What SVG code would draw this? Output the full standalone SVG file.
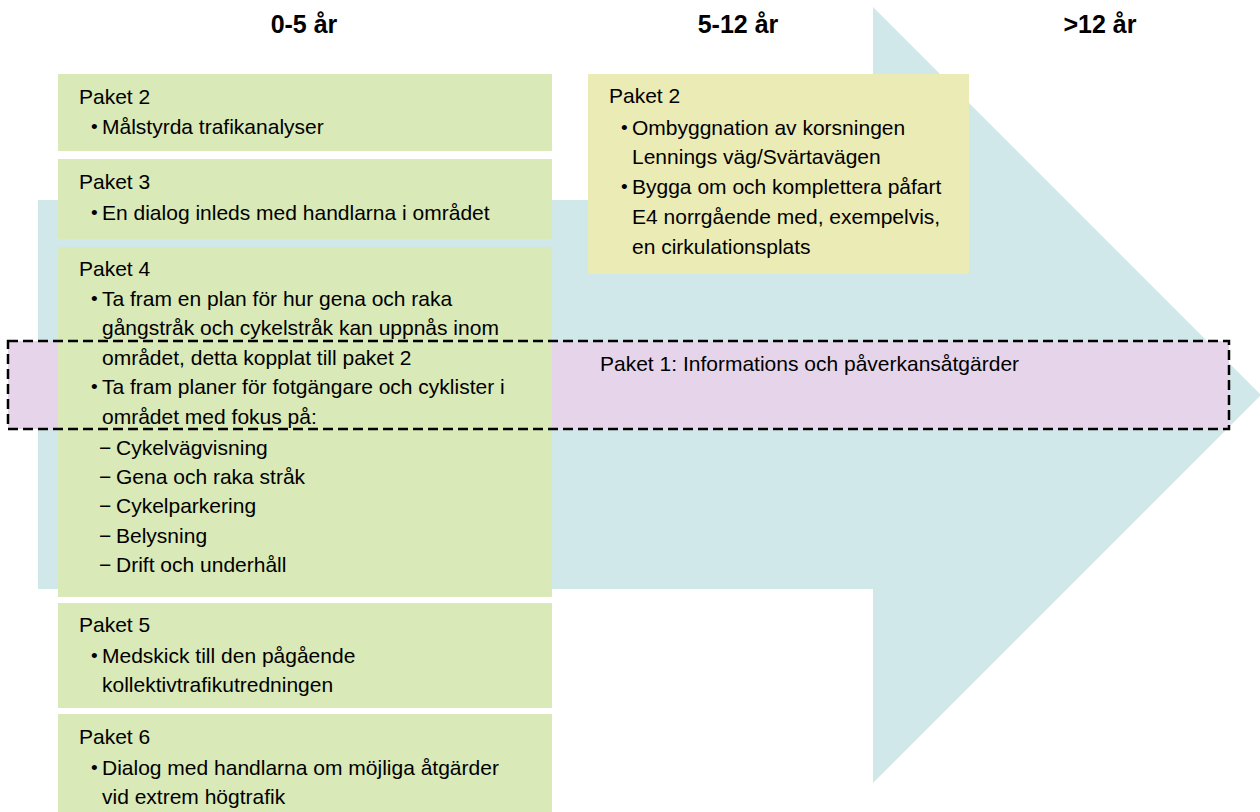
<svg xmlns="http://www.w3.org/2000/svg" width="1260" height="812" viewBox="0 0 1260 812">
<style>
text{font-family:"Liberation Sans",Arial,sans-serif;fill:#000}
.t{font-size:21px}
.b{font-size:19px}
.h{font-size:25px;font-weight:bold;text-anchor:middle}
.g{fill:#D9E9B7}
.y{fill:#EBEBB5}
</style>
<rect width="1260" height="812" fill="#fff"/>
<g id="arrow">
<polygon points="38,200 873,200 873,7 1261,395 873,783 873,589 38,589" fill="#D0E8E9"/>
</g>
<g id="headers">
<text class="h" x="304" y="33">0-5 år</text>
<text class="h" x="738" y="33">5-12 år</text>
<text class="h" x="1100" y="33">&gt;12 år</text>
</g>
<g id="paket1-fill">
<rect x="8" y="341" width="1221" height="88" fill="#E6D5EA"/>
<text class="t" x="600" y="371">Paket 1: Informations och påverkansåtgärder</text>
</g>
<g id="paket2-left">
<rect class="g" x="58" y="74" width="494" height="77"/>
<text class="t" x="79" y="104">Paket 2</text>
<text class="b" x="91" y="133">•</text>
<text class="t" x="102" y="134">Målstyrda trafikanalyser</text>
</g>
<g id="paket3">
<rect class="g" x="58" y="159" width="494" height="80"/>
<text class="t" x="79" y="189">Paket 3</text>
<text class="b" x="91" y="219">•</text>
<text class="t" x="102" y="220">En dialog inleds med handlarna i området</text>
</g>
<g id="paket4">
<rect class="g" x="58" y="247" width="494" height="350"/>
<text class="t" x="79" y="276">Paket 4</text>
<text class="b" x="91" y="305">•</text>
<text class="t" x="102" y="306">Ta fram en plan för hur gena och raka</text>
<text class="t" x="102" y="335">gångstråk och cykelstråk kan uppnås inom</text>
<text class="t" x="102" y="365">området, detta kopplat till paket 2</text>
<text class="b" x="91" y="393">•</text>
<text class="t" x="102" y="394">Ta fram planer för fotgängare och cyklister i</text>
<text class="t" x="102" y="424">området med fokus på:</text>
<text class="t" x="99" y="455">−</text>
<text class="t" x="116" y="455">Cykelvägvisning</text>
<text class="t" x="99" y="484">−</text>
<text class="t" x="116" y="484">Gena och raka stråk</text>
<text class="t" x="99" y="513">−</text>
<text class="t" x="116" y="513">Cykelparkering</text>
<text class="t" x="99" y="543">−</text>
<text class="t" x="116" y="543">Belysning</text>
<text class="t" x="99" y="572">−</text>
<text class="t" x="116" y="572">Drift och underhåll</text>
</g>
<g id="paket5">
<rect class="g" x="58" y="603" width="494" height="105"/>
<text class="t" x="79" y="632">Paket 5</text>
<text class="b" x="91" y="662">•</text>
<text class="t" x="102" y="663">Medskick till den pågående</text>
<text class="t" x="102" y="692">kollektivtrafikutredningen</text>
</g>
<g id="paket6">
<rect class="g" x="58" y="714" width="494" height="110"/>
<text class="t" x="79" y="744">Paket 6</text>
<text class="b" x="91" y="774">•</text>
<text class="t" x="102" y="775">Dialog med handlarna om möjliga åtgärder</text>
<text class="t" x="102" y="804">vid extrem högtrafik</text>
</g>
<g id="paket2-right">
<rect class="y" x="588" y="74" width="381" height="200"/>
<text class="t" x="609" y="103">Paket 2</text>
<text class="b" x="621" y="134">•</text>
<text class="t" x="632" y="135">Ombyggnation av korsningen</text>
<text class="t" x="632" y="164">Lennings väg/Svärtavägen</text>
<text class="b" x="621" y="193">•</text>
<text class="t" x="632" y="194">Bygga om och komplettera påfart</text>
<text class="t" x="632" y="224">E4 norrgående med, exempelvis,</text>
<text class="t" x="632" y="254">en cirkulationsplats</text>
</g>
<g id="connectors">
<rect x="8" y="341" width="1221" height="88" fill="none" stroke="#000" stroke-width="2.5" stroke-dasharray="10,5"/>
</g>
</svg>
